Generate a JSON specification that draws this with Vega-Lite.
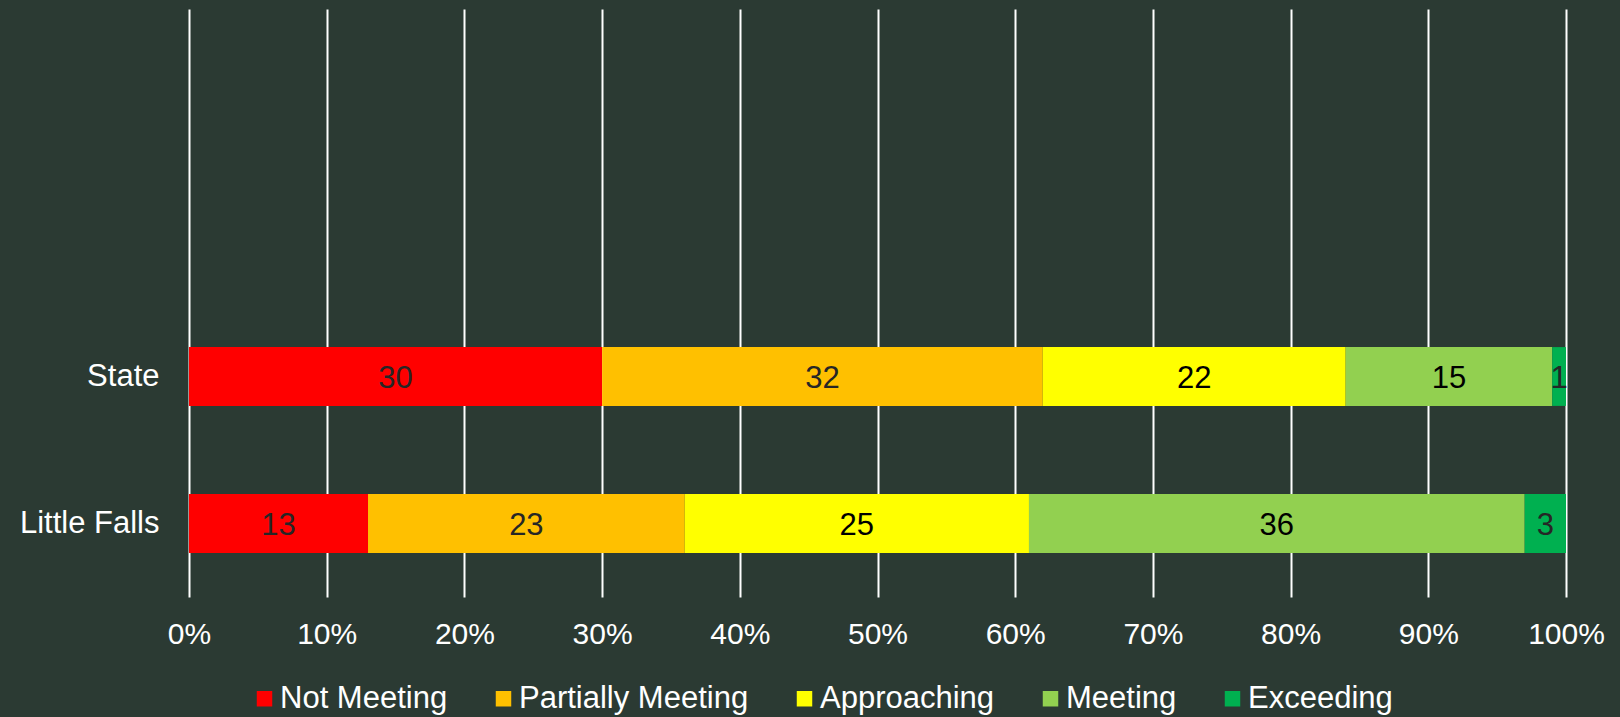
{
  "$schema": "https://vega.github.io/schema/vega-lite/v6.json",
  "width": 1377,
  "height": 588,
  "autosize": {"type": "none"},
  "padding": {"left": 189, "top": 9, "right": 54, "bottom": 120},
  "background": "#2b3a33",
  "config": {
    "font": "Liberation Sans",
    "view": {"stroke": null},
    "axis": {"labelFont": "Liberation Sans", "labelFontSize": 30, "labelColor": "#ffffff"},
    "legend": {"labelFont": "Liberation Sans"}
  },
  "data": {
    "values": [
      {"group": "State", "level": "Not Meeting", "rank": 1, "value": 30},
      {"group": "State", "level": "Partially Meeting", "rank": 2, "value": 32},
      {"group": "State", "level": "Approaching", "rank": 3, "value": 22},
      {"group": "State", "level": "Meeting", "rank": 4, "value": 15},
      {"group": "State", "level": "Exceeding", "rank": 5, "value": 1},
      {"group": "Little Falls", "level": "Not Meeting", "rank": 1, "value": 13},
      {"group": "Little Falls", "level": "Partially Meeting", "rank": 2, "value": 23},
      {"group": "Little Falls", "level": "Approaching", "rank": 3, "value": 25},
      {"group": "Little Falls", "level": "Meeting", "rank": 4, "value": 36},
      {"group": "Little Falls", "level": "Exceeding", "rank": 5, "value": 3}
    ]
  },
  "encoding": {
    "y": {
      "field": "group",
      "type": "nominal",
      "scale": {"domain": ["_a", "_b", "State", "Little Falls"], "paddingInner": 0.6, "paddingOuter": 0.3},
      "axis": {
        "title": null,
        "domain": false,
        "ticks": false,
        "labelPadding": 30,
        "labelFontSize": 31,
        "labelExpr": "slice(datum.value, 0, 1) == '_' ? '' : datum.value"
      }
    },
    "x": {
      "field": "value",
      "type": "quantitative",
      "stack": "normalize",
      "scale": {"domain": [0, 1], "nice": false},
      "axis": {
        "title": null,
        "domain": false,
        "ticks": false,
        "grid": true,
        "gridColor": "#ffffff",
        "gridWidth": 2,
        "gridOpacity": 1,
        "values": [0, 0.1, 0.2, 0.3, 0.4, 0.5, 0.6, 0.7, 0.8, 0.9, 1],
        "format": ".0%",
        "labelBaseline": "middle",
        "labelPadding": 37,
        "labelFlush": false
      }
    },
    "order": {"field": "rank", "type": "quantitative"}
  },
  "layer": [
    {
      "mark": {"type": "bar"},
      "encoding": {
        "color": {
          "field": "level",
          "type": "nominal",
          "scale": {
            "domain": ["Not Meeting", "Partially Meeting", "Approaching", "Meeting", "Exceeding"],
            "range": ["#ff0000", "#ffc000", "#ffff00", "#92d050", "#00b050"]
          },
          "legend": {
            "title": null,
            "orient": "none",
            "direction": "horizontal",
            "legendX": 60,
            "legendY": 674,
            "symbolType": "square",
            "symbolSize": 240,
            "symbolStrokeWidth": 0,
            "symbolOpacity": 1,
            "labelFontSize": 31,
            "labelColor": "#ffffff",
            "labelLimit": 400,
            "labelOffset": 0,
            "columnPadding": 40
          }
        }
      }
    },
    {
      "mark": {"type": "text", "fontSize": 31, "baseline": "middle", "align": "center", "dy": 2},
      "encoding": {
        "x": {"field": "value", "type": "quantitative", "stack": "normalize", "bandPosition": 0.5},
        "detail": {"field": "level"},
        "text": {"field": "value", "type": "quantitative"},
        "color": {
          "condition": {"test": "datum.level == 'Approaching' || datum.level == 'Meeting'", "value": "#000000"},
          "value": "#262626"
        }
      }
    }
  ]
}
